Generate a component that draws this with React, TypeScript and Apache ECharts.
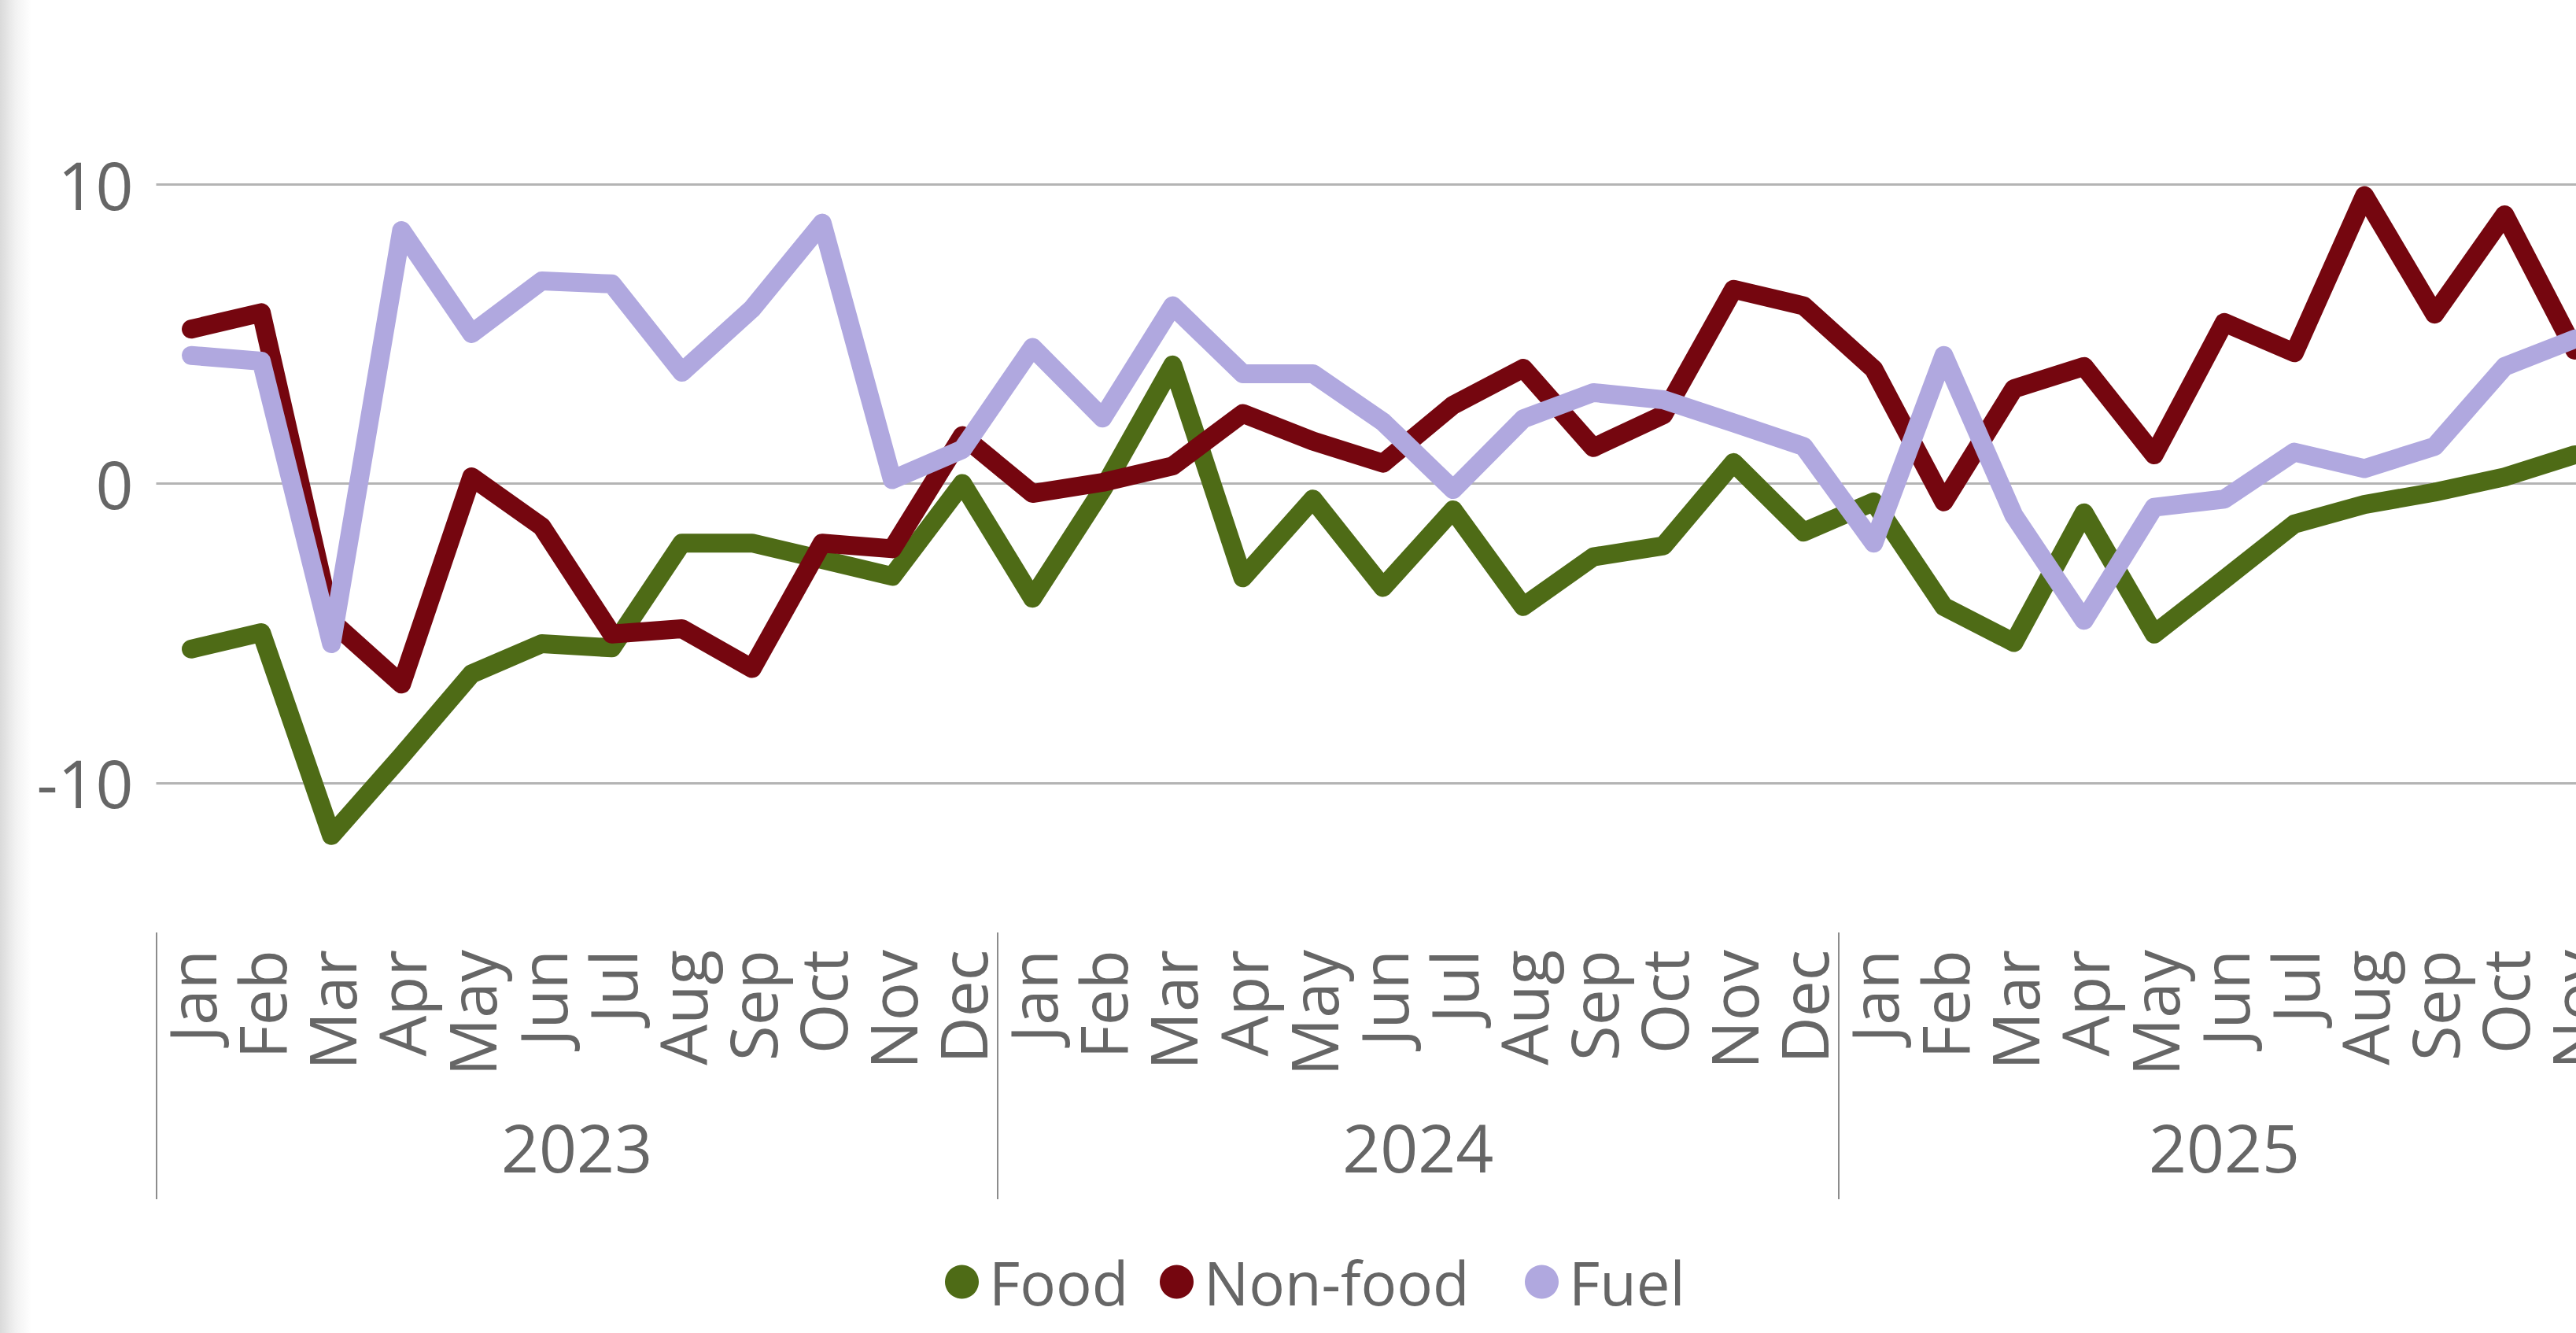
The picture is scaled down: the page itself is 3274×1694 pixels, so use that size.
import React, { useEffect, useRef } from "react";
import * as echarts from "echarts";

// ---- data (the visible chart is cropped after Nov 2025) ----
const MONTHS = ["Jan", "Feb", "Mar", "Apr", "May", "Jun", "Jul", "Aug", "Sep", "Oct", "Nov", "Dec"];
const YEARS = ["2023", "2024", "2025"];
const CATEGORIES = YEARS.flatMap((y) => MONTHS.map((m) => `${m} ${y}`)).slice(0, 35);

const FOOD = [
  -5.53, -4.98, -11.76, -9.1, -6.36, -5.35, -5.49, -1.99, -1.99, -2.54, -3.1, 0.0,
  -3.83, -0.2, 3.96, -3.15, -0.52, -3.47, -0.88, -4.11, -2.45, -2.08, 0.7, -1.62,
  -0.61, -4.11, -5.31, -0.98, -5.03, -3.2, -1.35, -0.7, -0.29, 0.22, 0.96,
];
const NON_FOOD = [
  5.16, 5.71, -4.6, -6.7, 0.22, -1.44, -5.03, -4.85, -6.18, -1.99, -2.18, 1.6,
  -0.33, 0.04, 0.59, 2.34, 1.42, 0.68, 2.62, 3.85, 1.2, 2.3, 6.49, 5.94,
  3.82, -0.61, 3.17, 3.91, 0.96, 5.38, 4.37, 9.62, 5.66, 8.98, 4.46,
];
const FUEL = [
  4.28, 4.09, -5.35, 8.45, 5.01, 6.77, 6.67, 3.72, 5.84, 8.7, 0.13, 1.14,
  4.55, 2.19, 5.94, 3.67, 3.67, 2.06, -0.2, 2.16, 3.04, 2.8, 2.03, 1.24,
  -1.99, 4.28, -1.07, -4.57, -0.79, -0.52, 1.05, 0.5, 1.24, 3.91, 4.83,
];
const SERIES_NAMES = ["Food", "Non-food", "Fuel"];
const SERIES_COLORS = ["#4E6B16", "#75060F", "#B0A8DF"];
const Y_TICKS = [-10, 0, 10];

const FONT = "'Segoe UI', 'Open Sans', 'Noto Sans', sans-serif";
const TEXT_COLOR = "#666666";

const VIEW_W = 3274;
const VIEW_H = 1694;
const CHART_W = 3400; // wider than the view: the reference is cropped at its right edge

export default function App() {
  const ref = useRef<HTMLDivElement>(null);

  useEffect(() => {
    if (!ref.current) return;
    const chart = echarts.init(ref.current, undefined, { renderer: "svg" });
    const values = [FOOD, NON_FOOD, FUEL];
    const monthCount = CATEGORIES.length;
    const plotRight = 198.5 + monthCount * 89.1;

    // year groups: start index and the middle of each group's months
    const yearMid: Record<string, string> = {};
    YEARS.forEach((y) => {
      const idx = CATEGORIES.map((c, i) => (c.endsWith(y) ? i : -1)).filter((i) => i >= 0);
      if (idx.length) yearMid[String(idx[0] + idx.length / 2)] = y;
    });

    const legendLefts = [1196, 1469, 1933];

    chart.setOption({
      animation: false,
      backgroundColor: "#ffffff",
      textStyle: { fontFamily: FONT },
      graphic: [
        {
          type: "rect",
          left: 0,
          top: 0,
          silent: true,
          z: -10,
          shape: { x: 0, y: 0, width: 40, height: VIEW_H },
          style: {
            fill: {
              type: "linear",
              x: 0,
              y: 0,
              x2: 1,
              y2: 0,
              colorStops: [
                { offset: 0, color: "#dadada" },
                { offset: 0.5, color: "#f2f2f2" },
                { offset: 1, color: "#ffffff" },
              ],
            },
          },
        },
      ],
      grid: { left: 198.5, top: 44, right: CHART_W - plotRight, bottom: 509, containLabel: false },
      legend: SERIES_NAMES.map((name, i) => ({
        data: [{ name, icon: "circle" }],
        left: legendLefts[i],
        top: 1586,
        orient: "horizontal",
        itemWidth: 43,
        itemHeight: 43,
        selectedMode: false,
        itemStyle: { borderWidth: 0 },
        textStyle: {
          fontSize: 76,
          color: TEXT_COLOR,
          fontFamily: FONT,
          padding: [0, 0, 0, 8],
        },
      })),
      xAxis: [
        {
          type: "category",
          data: CATEGORIES,
          position: "bottom",
          boundaryGap: true,
          axisLine: { show: false, onZero: false },
          axisTick: { show: false },
          splitLine: { show: false },
          axisLabel: {
            interval: 0,
            rotate: 90,
            margin: 22,
            fontSize: 82,
            color: TEXT_COLOR,
            fontFamily: FONT,
            formatter: (v: string) => v.split(" ")[0],
          },
        },
        {
          type: "value",
          min: 0,
          max: monthCount,
          interval: 12,
          position: "bottom",
          axisLine: { show: false, onZero: false },
          axisTick: { show: true, inside: false, length: 339, lineStyle: { color: "#8c8c8c", width: 2 } },
          axisLabel: { show: false },
          splitLine: { show: false },
        },
        {
          type: "value",
          min: 0,
          max: monthCount,
          interval: 0.5,
          position: "bottom",
          axisLine: { show: false, onZero: false },
          axisTick: { show: false },
          splitLine: { show: false },
          axisLabel: {
            margin: 272,
            verticalAlign: "middle",
            fontSize: 84,
            color: TEXT_COLOR,
            fontFamily: FONT,
            formatter: (v: number) => yearMid[String(v)] ?? "",
          },
        },
      ],
      yAxis: {
        type: "value",
        min: -15,
        max: 15,
        interval: 5,
        axisLine: { show: false },
        axisTick: { show: false },
        axisLabel: {
          margin: 29,
          fontSize: 84,
          color: TEXT_COLOR,
          fontFamily: FONT,
          formatter: (v: number) => (Y_TICKS.includes(v) ? String(v) : ""),
        },
        splitLine: {
          show: true,
          lineStyle: { color: ["rgba(0,0,0,0)", "#B4B4B4"], width: 3 },
        },
      },
      series: SERIES_NAMES.map((name, i) => ({
        name,
        type: "line",
        xAxisIndex: 0,
        yAxisIndex: 0,
        data: values[i],
        symbol: "none",
        showSymbol: false,
        itemStyle: { color: SERIES_COLORS[i] },
        lineStyle: { color: SERIES_COLORS[i], width: 24, cap: "round", join: "round" },
      })),
    });

    return () => chart.dispose();
  }, []);

  return (
    <div
      style={{
        position: "fixed",
        left: 0,
        top: 0,
        width: VIEW_W,
        height: VIEW_H,
        overflow: "hidden",
        background: "#fff",
      }}
    >
      <div ref={ref} style={{ width: CHART_W, height: VIEW_H }} />
    </div>
  );
}
